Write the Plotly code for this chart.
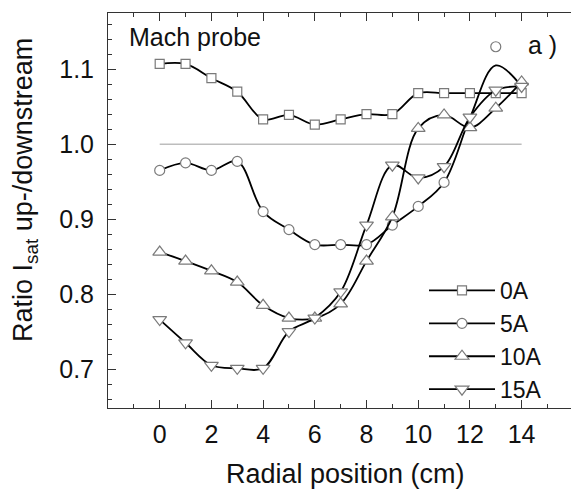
import plotly.graph_objects as go

# ---- data ----
radial_cm = [0, 1, 2, 3, 4, 5, 6, 7, 8, 9, 10, 11, 12, 13, 14]

ratio_0A = [1.107, 1.107, 1.088, 1.070, 1.033, 1.039, 1.026, 1.033, 1.040, 1.040,
            1.068, 1.068, 1.068, 1.068, 1.068]
# 5A: curve values (points 12-14 are not shown as markers in the original)
ratio_5A = [0.965, 0.975, 0.965, 0.977, 0.910, 0.886, 0.866, 0.866, 0.866, 0.892,
            0.917, 0.949, 1.035, 1.105, 1.077]
ratio_5A_shown = [True] * 12 + [False] * 3
outlier_5A_x = [13]
outlier_5A_y = [1.130]
ratio_10A = [0.856, 0.844, 0.831, 0.816, 0.785, 0.768, 0.768, 0.787, 0.844, 0.903,
             1.021, 1.039, 1.022, 1.048, 1.083]
ratio_15A = [0.766, 0.735, 0.705, 0.701, 0.701, 0.750, 0.768, 0.803, 0.892, 0.972,
             0.955, 0.970, 1.036, 1.072, 1.077]

ref_x = [0, 14]
ref_y = [1.0, 1.0]

series_names = ["0A", "5A", "10A", "15A"]

FONT = "Liberation Sans, Arial, sans-serif"
MK_LINE = "#7a7a7a"

# plot area in pixels (for placing free texts)
W, H = 571, 492
L, R, T, B = 108, 0, 13, 84
PW, PH = W - L - R, H - T - B

def px_to_paper(px, py):
    return (px - L) / PW, (H - B - py) / PH

fig = go.Figure()

fig.add_trace(go.Scatter(x=ref_x, y=ref_y, mode="lines",
                         line=dict(color="#bdbdbd", width=1.5),
                         showlegend=False, hoverinfo="skip"))

def add_series(name, y, symbol, size, colors=None, lcolors=None):
    fig.add_trace(go.Scatter(
        x=radial_cm, y=y, name=name, mode="lines+markers",
        line=dict(color="black", width=1.8, shape="spline", smoothing=1.0),
        marker=dict(symbol=symbol, size=size,
                    color=colors if colors is not None else "white",
                    line=dict(color=lcolors if lcolors is not None else MK_LINE, width=1.2)),
    ))

add_series(series_names[0], ratio_0A, "square", 9)
add_series(series_names[1], ratio_5A, "circle", 10,
           colors=["white" if s else "rgba(0,0,0,0)" for s in ratio_5A_shown],
           lcolors=[MK_LINE if s else "rgba(0,0,0,0)" for s in ratio_5A_shown])
fig.add_trace(go.Scatter(x=outlier_5A_x, y=outlier_5A_y, mode="markers",
                         marker=dict(symbol="circle", size=10, color="white",
                                     line=dict(color=MK_LINE, width=1.2)),
                         showlegend=False))
add_series(series_names[2], ratio_10A, "triangle-up", 12)
add_series(series_names[3], ratio_15A, "triangle-down", 12)

ax, ay = px_to_paper(127, 37)
fig.add_annotation(xref="paper", yref="paper", x=ax, y=ay, xanchor="left", yanchor="middle",
                   text="Mach probe", showarrow=False, font=dict(size=25, color="#111"))
ax, ay = px_to_paper(526, 45)
fig.add_annotation(xref="paper", yref="paper", x=ax, y=ay, xanchor="left", yanchor="middle",
                   text="a )", showarrow=False, font=dict(size=25, color="#111"))
ax, ay = px_to_paper(25, 190)
fig.add_annotation(xref="paper", yref="paper", x=ax, y=ay, xanchor="center", yanchor="middle",
                   text="Ratio I<sub>sat</sub> up-/downstream", textangle=-90,
                   showarrow=False, font=dict(size=27, color="#111"))
ax, ay = px_to_paper(345, 474)
fig.add_annotation(xref="paper", yref="paper", x=ax, y=ay, xanchor="center", yanchor="middle",
                   text="Radial position (cm)", showarrow=False,
                   font=dict(size=27, color="#111"))

lx, ly = px_to_paper(424, 269)
fig.update_layout(
    width=W, height=H,
    margin=dict(l=L, r=R, t=T, b=B),
    paper_bgcolor="white", plot_bgcolor="white",
    font=dict(family=FONT, size=25, color="#111"),
    legend=dict(x=lx, y=ly, xanchor="left", yanchor="top",
                bgcolor="rgba(0,0,0,0)", itemwidth=66, tracegroupgap=0,
                font=dict(size=23)),
    xaxis=dict(range=[-2, 15.91], tickvals=[0, 2, 4, 6, 8, 10, 12, 14],
               ticks="inside", ticklen=8, tickwidth=1, tickcolor="#333",
               minor=dict(dtick=1, tick0=0, ticks="inside", ticklen=4, tickcolor="#333"),
               showline=True, linecolor="#333", linewidth=1, mirror="ticks",
               showgrid=False, zeroline=False, ticklabelstandoff=4),
    yaxis=dict(range=[0.648, 1.175], tickvals=[0.7, 0.8, 0.9, 1.0, 1.1],
               ticktext=["0.7", "0.8", "0.9", "1.0", "1.1"],
               ticks="inside", ticklen=8, tickwidth=1, tickcolor="#333",
               minor=dict(dtick=0.02, tick0=0.7, ticks="inside", ticklen=4, tickcolor="#333"),
               showline=True, linecolor="#333", linewidth=1, mirror=False,
               showgrid=False, zeroline=False, ticklabelstandoff=8),
)

fig.write_html("out.html", config={"displayModeBar": False},
               post_script="document.body.style.margin='0';document.body.style.overflow='hidden';")
